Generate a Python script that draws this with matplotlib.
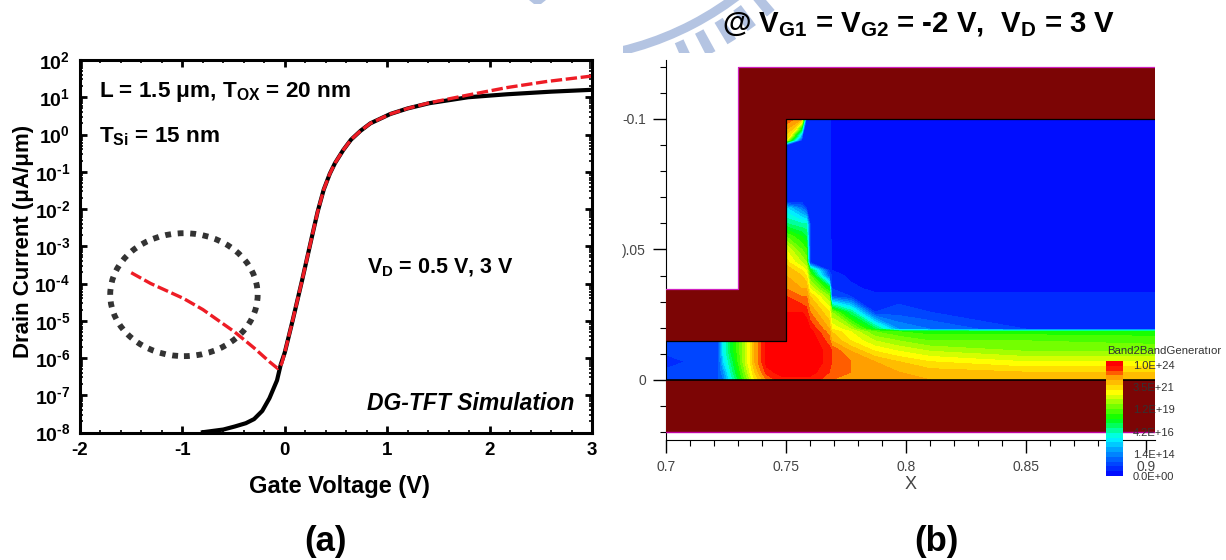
import numpy as np
import matplotlib
matplotlib.use('Agg')
import matplotlib.pyplot as plt
from matplotlib.colors import LinearSegmentedColormap
from matplotlib.patches import Ellipse, Polygon, Rectangle, Wedge
from matplotlib.ticker import FixedLocator, NullFormatter

plt.rcParams['font.family'] = ['Liberation Sans', 'DejaVu Sans']
plt.rcParams['mathtext.fontset'] = 'custom'
plt.rcParams['mathtext.rm'] = 'Liberation Sans:bold'
plt.rcParams['mathtext.default'] = 'rm'

W, H = 1226, 560

# panel (a): gate voltage and log10 of drain current
black_vg = [-0.82, -0.6, -0.49, -0.38, -0.3, -0.22, -0.15, -0.076, -0.04, 0.0, 0.076, 0.17, 0.266, 0.32, 0.38, 0.44, 0.49,
            0.57, 0.646, 0.74, 0.836, 1.03, 1.2, 1.41, 1.79, 2.17, 2.6, 3.0]
black_log = [-8.0, -7.92, -7.84, -7.75, -7.64, -7.42, -7.08, -6.6, -6.18, -5.85, -5.0, -3.9, -2.73, -2.08, -1.48, -1.05, -0.77,
             -0.42, -0.14, 0.1, 0.30, 0.55, 0.7, 0.84, 1.0, 1.08, 1.15, 1.2]
red_vg = [-1.5, -1.31, -0.99, -0.8, -0.49, -0.3, -0.15, -0.07, -0.03, 0.0, 0.076, 0.17, 0.266, 0.32, 0.38, 0.44, 0.49,
          0.57, 0.646, 0.74, 0.836, 1.03, 1.2, 1.41, 1.79, 2.17, 2.55, 3.0]
red_log = [-3.71, -4.0, -4.4, -4.7, -5.3, -5.73, -6.1, -6.28, -6.15, -5.85, -5.0, -3.9, -2.73, -2.08, -1.48, -1.05, -0.77,
           -0.42, -0.14, 0.1, 0.30, 0.55, 0.7, 0.85, 1.06, 1.26, 1.42, 1.57]
y_exponents = [2, 1, 0, -1, -2, -3, -4, -5, -6, -7, -8]

# panel (b): band-to-band generation, as colour level 0-24 on the device mesh
mesh_x_left = [0.70, 0.712, 0.722, 0.724, 0.727, 0.732, 0.737, 0.742, 0.748]
mesh_x_right = [0.75, 0.7565, 0.7585, 0.76, 0.768, 0.769, 0.777, 0.787, 0.797, 0.81, 0.85, 0.9037]
mesh_y = [-0.1, -0.092, -0.09, -0.068, -0.066, -0.06, -0.055, -0.05, -0.045, -0.042, -0.04, -0.035, -0.032,
          -0.026, -0.0195, -0.0185, -0.015, -0.011, -0.007, -0.003, 0.0]
gen_right = [
    [22, 20, 2, 2, 2, 0.5, 0.5, 0.5, 0.5, 0.5, 0.5, 0.5],
    [18, 2, 2, 2, 2, 0.5, 0.5, 0.5, 0.5, 0.5, 0.5, 0.5],
    [2, 2, 2, 2, 2, 0.5, 0.5, 0.5, 0.5, 0.5, 0.5, 0.5],
    [2, 2, 2, 2, 2, 0.5, 0.5, 0.5, 0.5, 0.5, 0.5, 0.5],
    [7, 4, 2, 2, 2, 0.5, 0.5, 0.5, 0.5, 0.5, 0.5, 0.5],
    [10, 9, 9, 2, 2, 0.5, 0.5, 0.5, 0.5, 0.5, 0.5, 0.5],
    [14, 12, 11, 2, 2, 0.5, 0.5, 0.5, 0.5, 0.5, 0.5, 0.5],
    [17, 14, 13, 2, 2, 1, 0.5, 0.5, 0.5, 0.5, 0.5, 0.5],
    [18.5, 16, 15, 2, 2, 1, 0.5, 0.5, 0.5, 0.5, 0.5, 0.5],
    [20, 18, 17, 12, 2, 1, 0.5, 0.5, 0.5, 0.5, 0.5, 0.5],
    [20, 19, 18, 14, 3, 2, 0.5, 0.5, 0.5, 0.5, 0.5, 0.5],
    [21, 20, 20, 17, 12, 2, 1.5, 0.5, 0.5, 0.5, 0.5, 0.5],
    [22, 21, 21, 19, 15, 3, 2, 1.5, 1.5, 1.5, 1.5, 1.5],
    [23, 23, 22.5, 21, 18, 15, 10, 2, 2.5, 2, 1.5, 1.5],
    [24, 24, 24, 23, 20, 18, 16, 11, 5, 4, 2, 2],
    [24, 24, 24, 23.5, 20.5, 19, 17, 14, 13, 12.5, 12.5, 12.5],
    [24, 24, 24, 24, 21.5, 20, 18, 16, 15, 14, 14, 13.5],
    [24, 24, 24, 24, 22.5, 22, 20, 18, 17, 16, 15, 15],
    [24, 24, 24, 24, 22.5, 22, 21, 20, 19, 18, 17, 17],
    [23.5, 23.5, 23.5, 23.5, 22, 22, 21, 20.5, 20, 19.5, 19, 19],
    [22.5, 22.5, 22.5, 22.5, 21.5, 21, 21, 20.5, 20.5, 20, 20, 20],
]
gen_left = [
    [2.5, 2.5, 3, 8, 11, 15, 20, 23.5, 24],
    [2.5, 2.5, 3, 8, 11, 15, 20, 23.5, 24],
    [1, 2.5, 3, 7, 10, 15, 20, 23.5, 24],
    [2.5, 2.5, 3, 5, 9, 14, 19, 22.5, 23.5],
    [2.5, 2.5, 3, 4, 8, 13, 18, 21, 22.5],
]
colorbar_labels = ['1.0E+24', '3.5E+21', '1.2E+19', '4.2E+16', '1.4E+14', '0.0E+00']
colorbar_label_y = [366, 388, 410, 433, 455, 477]

# watermark tooth angles (degrees), logo is cropped by the figure
tooth_angles = [50, 54, 58, 62, 66]

level_cmap = LinearSegmentedColormap.from_list('tecplot', [
    (0.0, '#0000ff'), (4 / 24, '#0070ff'), (8 / 24, '#00ffff'), (12 / 24, '#00ff00'),
    (17.5 / 24, '#ffff00'), (20.5 / 24, '#ffa000'), (23 / 24, '#ff0000'), (1.0, '#ff0000')])
levels = np.arange(0, 25)
maroon = '#7c0505'
grey = '#444444'


def px_axes(fig, left, top, right, bottom):
    return fig.add_axes([left / W, 1 - bottom / H, (right - left) / W, (bottom - top) / H])


def exp_label(e):
    # plain hyphen in the exponent, as in the source figure
    return '10$^{%s}$' % str(e).replace('-', '\u2010')


fig = plt.figure(figsize=(W / 100, H / 100), dpi=100)

# ---- (a) transfer curves
ax = px_axes(fig, 80, 60, 592, 432.5)
ax.plot(black_vg, 10.0 ** np.array(black_log), color='black', lw=3.0, solid_capstyle='butt')
ax.plot(red_vg, 10.0 ** np.array(red_log), color='#ee1c25', lw=2.4, dashes=(3.4, 1.1))
ax.set_yscale('log')
ax.set_xlim(-2, 3)
ax.set_ylim(1e-8, 1e2)
ax.set_xticks([-2, -1, 0, 1, 2, 3])
ax.set_xticklabels(['-2', '-1', '0', '1', '2', '3'], fontsize=13.5, fontweight='bold')
ax.xaxis.set_minor_locator(FixedLocator(np.arange(-2, 3.01, 0.2)))
ax.set_yticks([10.0 ** e for e in y_exponents])
ax.set_yticklabels([exp_label(e) for e in y_exponents], fontsize=14, fontweight='bold')
ax.yaxis.set_minor_locator(FixedLocator([m * 10.0 ** e for e in range(-8, 2) for m in range(2, 10)]))
ax.yaxis.set_minor_formatter(NullFormatter())
ax.tick_params(which='major', direction='in', top=True, right=True, length=5, width=2, pad=7)
ax.tick_params(which='minor', direction='in', top=True, right=True, length=2.5, width=1.2)
for side in ax.spines.values():
    side.set_linewidth(2.2)
ax.set_xlabel('Gate Voltage (V)', fontsize=17, fontweight='bold', labelpad=11, x=0.507)
ax.set_ylabel('Drain Current (\u03bcA/\u03bcm)', fontsize=16, fontweight='bold', labelpad=0, y=0.512)
ax.add_patch(Ellipse((0.203, 0.37), 0.288, 0.33, transform=ax.transAxes, fill=False, edgecolor='#333333',
                     lw=4.2, linestyle=(0, (1, 1.15))))

# ---- (b) generation contours
bx = px_axes(fig, 666, 60, 1155, 440)
bx.set_xlim(0.7, 0.9037)
bx.set_ylim(0.02299, -0.1226)
mesh_x = mesh_x_left + mesh_x_right
grid = np.full((len(mesh_y), len(mesh_x)), np.nan)
grid[:, len(mesh_x_left):] = gen_right
grid[-len(gen_left):, :len(mesh_x_left)] = gen_left
bx.contourf(mesh_x, mesh_y, grid, levels=levels, cmap=level_cmap, vmin=0, vmax=24, extend='both')
bx.add_patch(Polygon([(0.73, -0.12), (0.9037, -0.12), (0.9037, -0.1), (0.75, -0.1), (0.75, -0.015), (0.7, -0.015),
                      (0.7, -0.035), (0.73, -0.035)], closed=True, facecolor=maroon, edgecolor='none', zorder=3))
bx.add_patch(Rectangle((0.7, 0.0), 0.2037, 0.02, facecolor=maroon, edgecolor='none', zorder=3))
bx.plot([0.7, 0.73, 0.73, 0.9037], [-0.035, -0.035, -0.12, -0.12], color='#d020c0', lw=0.9, zorder=4)
bx.plot([0.7, 0.9037], [0.0198, 0.0198], color='#c000a0', lw=1.0, zorder=4)
bx.plot([0.9037, 0.75, 0.75, 0.7], [-0.1, -0.1, -0.015, -0.015], color='black', lw=0.9, zorder=4)
bx.plot([0.7, 0.9037], [0.0, 0.0], color='black', lw=1.2, zorder=4)
bx.spines['top'].set_visible(False)
bx.spines['right'].set_visible(False)
bx.set_xticks([0.7, 0.75, 0.8, 0.85, 0.9])
bx.set_xticklabels(['0.7', '0.75', '0.8', '0.85', '0.9'], fontsize=10, color=grey)
bx.set_yticks([-0.1, -0.05, 0.0])
bx.set_yticklabels(['-0.1', ').05', '0'], fontsize=10, color=grey)
bx.xaxis.set_minor_locator(FixedLocator(np.arange(0.7, 0.9001, 0.01)))
bx.yaxis.set_minor_locator(FixedLocator(np.arange(-0.12, 0.0201, 0.01)))
bx.tick_params(which='major', length=9.5, width=1, pad=5)
bx.tick_params(which='minor', length=4.5, width=0.8)
bx.set_xlabel('X', fontsize=13, color=grey, labelpad=1)

# ---- colour legend of (b)
cx = px_axes(fig, 1106, 361, 1123, 476)
cx.pcolormesh([0, 1], levels, np.arange(24).reshape(-1, 1) + 0.5, cmap=level_cmap, vmin=0, vmax=24)
cx.axis('off')
cx.set_zorder(6)

# ---- figure level text and the watermark, in pixels
ov = fig.add_axes([0, 0, 1, 1])
ov.set_xlim(0, W)
ov.set_ylim(H, 0)
ov.axis('off')
ov.set_zorder(7)

logo_blue = '#b4c4e2'
crop = Rectangle((623, 0), 180, 52.5, transform=ov.transData)
marks = [Wedge((549, -251), 315, 40, 85, width=9, facecolor=logo_blue, edgecolor='none')]
for angle in tooth_angles:
    marks.append(Wedge((549, -251), 345, angle - 0.85, angle + 0.85, width=25, facecolor=logo_blue, edgecolor='none'))
for m in marks:
    ov.add_patch(m)
    m.set_clip_path(crop)
ov.add_patch(Polygon([(529, 0), (546, 0), (541, 4), (534, 4)], closed=True, facecolor=logo_blue, edgecolor='none'))

ov.text(99, 92, 'L = 1.5 \u03bcm, T$_{\\mathrm{OX}}$ = 20 nm', fontsize=16.2, fontweight='bold', va='center')
ov.text(99, 137, 'T$_{\\mathrm{Si}}$ = 15 nm', fontsize=16.2, fontweight='bold', va='center')
ov.text(367, 268, 'V$_{\\mathrm{D}}$ = 0.5 V, 3 V', fontsize=15.5, fontweight='bold', va='center')
ov.text(574, 403, 'DG-TFT Simulation', fontsize=16.5, fontweight='bold', fontstyle='italic', ha='right', va='center')
ov.text(326, 541, '(a)', fontsize=25, fontweight='bold', ha='center', va='center')
ov.text(936, 541, '(b)', fontsize=25, fontweight='bold', ha='center', va='center')
ov.text(722, 25, '@ V$_{\\mathrm{G1}}$ = V$_{\\mathrm{G2}}$ = -2 V,  V$_{\\mathrm{D}}$ = 3 V', fontsize=21.2,
        fontweight='bold', va='center')
ov.text(1107, 351, 'Band2BandGeneratıor', fontsize=8.2, color='#333333', va='center')
for lab, ypos in zip(colorbar_labels, colorbar_label_y):
    ov.text(1133, ypos, lab, fontsize=8, color='#333333', va='center')

fig.savefig('out.png', dpi=100)
